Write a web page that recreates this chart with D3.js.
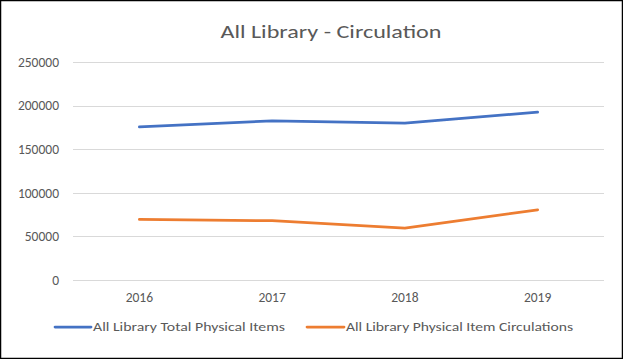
<!DOCTYPE html>
<html><head><meta charset="utf-8">
<script src="https://cdn.jsdelivr.net/npm/d3@7"></script>
<style>html,body{margin:0;padding:0;background:#fff;}svg{display:block;}</style>
</head><body>
<svg id="c" width="623" height="359"></svg>
<script>
const years = ["2016","2017","2018","2019"];
const totalItems = [175500, 182500, 180000, 192500];
const circulations = [69500, 68000, 59500, 80500];
const yTicks = [0, 50000, 100000, 150000, 200000, 250000];
const seriesNames = ["All Library Total Physical Items", "All Library Physical Item Circulations"];
const colors = ["#4472C4", "#ED7D31"];

const svg = d3.select("#c");
svg.append("rect").attr("x",0.5).attr("y",0.5).attr("width",622).attr("height",358)
  .attr("fill","#fff").attr("stroke","#000").attr("stroke-width",1.5);

const x = d3.scaleBand().domain(years).range([73, 604]);
const y = d3.scaleLinear().domain([0, 250000]).range([280, 62]);

const fontFam = "Carlito, Lato, 'Open Sans', sans-serif";

// gridlines
svg.append("g").selectAll("line").data(yTicks).join("line")
  .attr("x1", 73).attr("x2", 604)
  .attr("y1", d => Math.round(y(d)) + 0.5).attr("y2", d => Math.round(y(d)) + 0.5)
  .attr("stroke", "#d9d9d9").attr("stroke-width", 1);

// y axis
const yAxis = svg.append("g").attr("transform","translate(73,0)")
  .call(d3.axisLeft(y).tickValues(yTicks).tickSize(0).tickPadding(14).tickFormat(d => String(d)));
yAxis.select(".domain").remove();
yAxis.selectAll("text").attr("fill","#595959").style("font-family",fontFam).style("font-size","13.5px");

// x axis
const xAxis = svg.append("g").attr("transform","translate(0,280)")
  .call(d3.axisBottom(x).tickSize(0).tickPadding(12));
xAxis.select(".domain").remove();
xAxis.selectAll("text").attr("fill","#595959").style("font-family",fontFam).style("font-size","13.5px");

// lines
const line = d3.line().x((d,i) => x(years[i]) + x.bandwidth()/2).y(d => y(d));
[totalItems, circulations].forEach((s, k) => {
  svg.append("path").datum(s).attr("d", line).attr("fill","none")
    .attr("stroke", colors[k]).attr("stroke-width", 2.75).attr("stroke-linecap","round").attr("stroke-linejoin","round");
});

// title
svg.append("text").attr("x", 331).attr("y", 38).attr("text-anchor","middle")
  .attr("fill","#595959").style("font-family",fontFam).style("font-size","19px")
  .attr("textLength", 221).attr("lengthAdjust","spacingAndGlyphs")
  .text("All Library - Circulation");

// legend
const leg = [
  {x1:55, x2:91, tx:93, tl:192},
  {x1:307, x2:344, tx:346, tl:227}
];
leg.forEach((l, k) => {
  svg.append("line").attr("x1", l.x1).attr("x2", l.x2).attr("y1", 327).attr("y2", 327)
    .attr("stroke", colors[k]).attr("stroke-width", 2.75).attr("stroke-linecap","round");
  svg.append("text").attr("x", l.tx).attr("y", 331).attr("fill","#595959")
    .style("font-family",fontFam).style("font-size","12px")
    .attr("textLength", l.tl).attr("lengthAdjust","spacingAndGlyphs")
    .text(seriesNames[k]);
});
</script>
</body></html>
